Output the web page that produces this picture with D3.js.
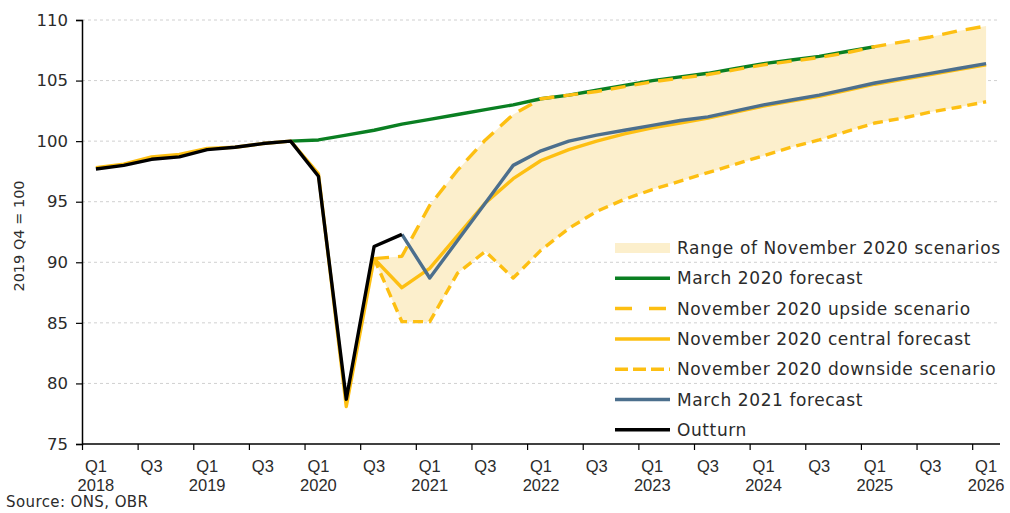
<!DOCTYPE html>
<html><head><meta charset="utf-8">
<script src="https://cdn.jsdelivr.net/npm/d3@7/dist/d3.min.js"></script>
<style>
html,body{margin:0;padding:0;background:#fff;}
svg{display:block;font-family:"DejaVu Sans",sans-serif;}
</style></head>
<body><svg id="c" width="1010" height="513"></svg>
<script>
const categories = ["Q1 2018","Q2 2018","Q3 2018","Q4 2018","Q1 2019","Q2 2019","Q3 2019","Q4 2019",
 "Q1 2020","Q2 2020","Q3 2020","Q4 2020","Q1 2021","Q2 2021","Q3 2021","Q4 2021",
 "Q1 2022","Q2 2022","Q3 2022","Q4 2022","Q1 2023","Q2 2023","Q3 2023","Q4 2023",
 "Q1 2024","Q2 2024","Q3 2024","Q4 2024","Q1 2025","Q2 2025","Q3 2025","Q4 2025","Q1 2026"];
const yTicks = [75,80,85,90,95,100,105,110];
const xTickCats = ["Q1 2018","Q3 2018","Q1 2019","Q3 2019","Q1 2020","Q3 2020","Q1 2021","Q3 2021",
 "Q1 2022","Q3 2022","Q1 2023","Q3 2023","Q1 2024","Q3 2024","Q1 2025","Q3 2025","Q1 2026"];

// series (start category, values)
const outturnStart = "Q1 2018";
const outturn = [97.7,98.0,98.5,98.7,99.3,99.5,99.8,100.0,97.1,78.7,91.3,92.3];
const march2020Start = "Q4 2019";
const march2020 = [100.0,100.1,100.5,100.9,101.4,101.8,102.2,102.6,103.0,103.5,103.8,104.2,104.6,105.0,105.3,105.6,106.0,106.4,106.7,107.0,107.4,107.8];
const centralStart = "Q1 2018";
const central = [97.8,98.1,98.7,98.9,99.4,99.5,99.8,100.0,97.3,78.1,90.3,87.9,89.5,92.2,94.9,96.9,98.4,99.3,100.0,100.6,101.1,101.5,101.9,102.4,102.9,103.3,103.7,104.2,104.7,105.1,105.5,105.9,106.3];
const upsideStart = "Q3 2020";
const upside = [90.3,90.5,94.7,97.6,100.1,102.2,103.5,103.8,104.1,104.5,104.9,105.2,105.5,105.9,106.3,106.6,106.9,107.3,107.8,108.2,108.6,109.1,109.5];
const downsideStart = "Q3 2020";
const downside = [90.3,85.1,85.1,89.1,90.9,88.7,91.0,92.8,94.2,95.2,96.0,96.7,97.4,98.1,98.8,99.5,100.1,100.8,101.5,101.9,102.4,102.8,103.25];
const march2021Start = "Q4 2020";
const march2021 = [92.3,88.7,91.8,94.9,98.0,99.2,100.0,100.5,100.9,101.3,101.7,102.0,102.5,103.0,103.4,103.8,104.3,104.8,105.2,105.6,106.0,106.4];

const legendLabels = ["Range of November 2020 scenarios","March 2020 forecast","November 2020 upside scenario",
 "November 2020 central forecast","November 2020 downside scenario","March 2021 forecast","Outturn"];

const C = {green:"#0a7f22", yellow:"#FDBF12", fill:"#FCEFCC", blue:"#4c6f8d", black:"#000", grid:"#d0d0d0", text:"#2b2b2b"};

const svg = d3.select("#c");
const L = 82, R = 1000, T = 20, B = 444;

const xBand = d3.scaleBand().domain(categories).range([L,R]).padding(0);
const xEdge = d3.scaleLinear().domain([0,categories.length]).range([L,R]);
const y = d3.scaleLinear().domain([75,110]).range([B,T]);
const cx = c => xBand(c) + xBand.bandwidth()/2;

function toPts(start, vals){
  const s = categories.indexOf(start);
  return vals.map((v,i)=>({c:categories[s+i], v}));
}

// grid
svg.append("g").selectAll("line").data(yTicks.filter(d=>d>75)).join("line")
  .attr("x1",L).attr("x2",R).attr("y1",d=>y(d)).attr("y2",d=>y(d))
  .attr("stroke",C.grid).attr("stroke-width",1).attr("stroke-dasharray","3,3");

// range area
const upPts = toPts(upsideStart, upside), dnPts = toPts(downsideStart, downside);
const rangeData = upPts.map((p,i)=>({c:p.c, hi:p.v, lo:dnPts[i].v}));
svg.append("path").datum(rangeData)
  .attr("d", d3.area().x(d=>cx(d.c)).y0(d=>y(d.lo)).y1(d=>y(d.hi)))
  .attr("fill", C.fill);

const line = d3.line().x(d=>cx(d.c)).y(d=>y(d.v));
function drawLine(pts, color, dash, w){
  svg.append("path").datum(pts).attr("d",line).attr("fill","none")
    .attr("stroke",color).attr("stroke-width",w||3.4).attr("stroke-linejoin","round")
    .attr("stroke-dasharray",dash||null);
}
drawLine(toPts(march2020Start, march2020), C.green);
drawLine(toPts(centralStart, central), C.yellow);
drawLine(upPts, C.yellow, "15,9");
drawLine(dnPts, C.yellow, "10,6");
drawLine(toPts(march2021Start, march2021), C.blue);
drawLine(toPts(outturnStart, outturn), C.black);

// y axis
const yAxis = svg.append("g").attr("transform",`translate(${L},0)`)
  .call(d3.axisLeft(y).tickValues(yTicks).tickSize(6).tickPadding(8));
yAxis.select(".domain").attr("stroke","#000").attr("stroke-width",1.5);
yAxis.selectAll(".tick line").attr("stroke","#000").attr("stroke-width",1.2);
yAxis.selectAll("text").attr("font-size",16.5).attr("fill",C.text).attr("font-family","DejaVu Sans");

// x axis ticks (category boundaries)
const xAxis = svg.append("g").attr("transform",`translate(0,${B})`)
  .call(d3.axisBottom(xEdge).tickValues(d3.range(0,categories.length,2)).tickSize(6).tickFormat(""));
xAxis.select(".domain").attr("stroke","#000").attr("stroke-width",1.5).attr("d",`M${L},0H${R}`);
xAxis.selectAll(".tick line").attr("stroke","#000").attr("stroke-width",1.2);

// x labels (category centers)
const xLab = svg.append("g").attr("transform",`translate(0,${B})`)
  .call(d3.axisBottom(xBand).tickValues(xTickCats).tickSize(0).tickPadding(0).tickFormat(""));
xLab.select(".domain").remove();
xLab.selectAll(".tick").each(function(c){
  const g = d3.select(this);
  const [q, yr] = c.split(" ");
  g.append("text").attr("y",28).attr("text-anchor","middle").attr("font-size",16.5).attr("fill",C.text).text(q);
  if(q==="Q1") g.append("text").attr("y",47).attr("text-anchor","middle").attr("font-size",16.5).attr("fill",C.text).text(yr);
});

// y label
svg.append("text").attr("transform",`translate(24,${(T+B)/2+4}) rotate(-90)`)
  .attr("text-anchor","middle").attr("font-size",14.5).attr("fill",C.text).text("2019 Q4 = 100");

// source
svg.append("text").attr("x",6).attr("y",507).attr("font-size",15).attr("letter-spacing",0.4).attr("fill",C.text).text("Source: ONS, OBR");

// legend
const lg = svg.append("g");
const ly0 = 248, lstep = 30.3, lx1 = 615, lx2 = 670, ltx = 677;
const styles = [
  {type:"rect"},
  {color:C.green},
  {color:C.yellow, dash:"17,17"},
  {color:C.yellow},
  {color:C.yellow, dash:"13,5"},
  {color:C.blue},
  {color:C.black}
];
legendLabels.forEach((lab,i)=>{
  const yy = ly0 + i*lstep;
  const st = styles[i];
  if(st.type==="rect"){
    lg.append("rect").attr("x",lx1).attr("y",yy-5).attr("width",lx2-lx1).attr("height",10).attr("fill",C.fill);
  } else {
    lg.append("line").attr("x1",lx1).attr("x2",lx2).attr("y1",yy).attr("y2",yy)
      .attr("stroke",st.color).attr("stroke-width",3.5).attr("stroke-dasharray",st.dash||null);
  }
  lg.append("text").attr("x",ltx).attr("y",yy+6).attr("font-size",17).attr("letter-spacing",0.6).attr("fill",C.text).text(lab);
});
</script></body></html>
